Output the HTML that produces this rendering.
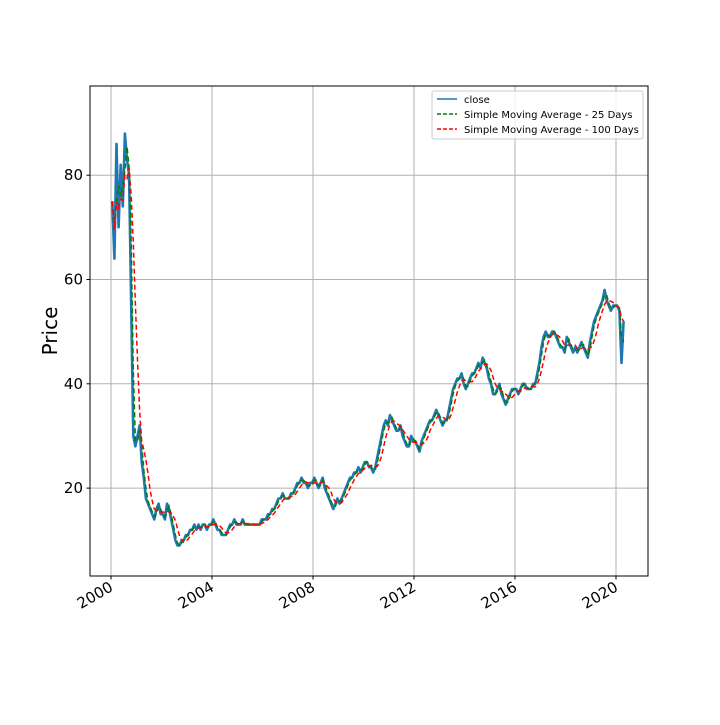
<!DOCTYPE html>
<html><head><meta charset="utf-8"><style>
body{margin:0;background:#fff;}
svg text{font-family:"DejaVu Sans","Liberation Sans",sans-serif;}
</style></head><body>
<svg id="chart" width="720" height="720" xmlns="http://www.w3.org/2000/svg">
<rect width="720" height="720" fill="#fff"/>
<g id="grid"></g>
<g id="series"></g>
<rect x="90" y="86" width="558" height="490" fill="none" stroke="#000" stroke-width="1"/>
<g id="axes"></g>
<text x="57" y="331" font-size="20" text-anchor="middle" transform="rotate(-90 57 331)">Price</text>
<g>
<rect x="432" y="91" width="211" height="48" fill="#fff" fill-opacity="0.8" stroke="#ccc" rx="2"/>
<line x1="437" y1="99" x2="457" y2="99" stroke="#1f77b4" stroke-width="1.5"/>
<text x="464" y="103" font-size="10">close</text>
<line x1="437" y1="114" x2="457" y2="114" stroke="green" stroke-width="1.5" stroke-dasharray="4,2"/>
<text x="464" y="118" font-size="10">Simple Moving Average - 25 Days</text>
<line x1="437" y1="129" x2="457" y2="129" stroke="red" stroke-width="1.5" stroke-dasharray="4,2"/>
<text x="464" y="133" font-size="10">Simple Moving Average - 100 Days</text>
</g>
</svg>
<script>
const startYear = 2000.05;
const closeValues = [
75,64,86,70,82,74,88,83,80,55,30,28,
30,32,25,22,18,17,16,15,14,16,17,15,
15,14,17,16,14,12,10,9,9,10,10,11,
11,12,12,13,12,13,12,13,13,12,13,13,
14,13,12,12,11,11,11,12,13,13,14,13,
13,13,14,13,13,13,13,13,13,13,13,14,
14,14,15,15,16,16,17,18,18,19,18,18,
18,19,19,20,21,21,22,21,21,20,21,21,
22,21,20,21,22,20,19,18,17,16,17,18,
17,18,19,20,21,22,22,23,23,24,23,24,
25,25,24,24,23,24,26,28,30,32,33,32,
34,33,32,31,31,32,30,29,28,28,30,29,
29,28,27,29,30,31,32,33,33,34,35,34,
33,32,33,33,35,37,39,40,41,41,42,40,
39,40,41,42,42,43,44,43,45,44,43,41,
40,38,38,39,40,38,37,36,37,38,39,39,
39,38,39,40,40,39,39,39,40,40,42,44,
47,49,50,49,49,50,50,49,48,47,47,46,
49,48,47,46,47,46,47,48,47,46,45,48,
50,52,53,54,55,56,58,56,55,54,55,55,
55,54,44,52];
const yTicks = [20,40,60,80];
const xTicks = [2000,2004,2008,2012,2016,2020];
const sma25Window = 2, sma100Window = 5;

function xs(t){return 111 + (t-2000)*25.25;}
function ys(v){return 592.4 - v*5.215;}
function sma(arr, w){
  const n=Math.max(1,Math.round(w));
  return arr.map((v,i)=>{const s=arr.slice(Math.max(0,i-n+1),i+1);return s.reduce((a,b)=>a+b,0)/s.length;});
}
const NS="http://www.w3.org/2000/svg";
function mk(tag,attrs,parent){const e=document.createElementNS(NS,tag);for(const k in attrs)e.setAttribute(k,attrs[k]);parent.appendChild(e);return e;}
const grid=document.getElementById('grid'), axes=document.getElementById('axes'), series=document.getElementById('series');
yTicks.forEach(v=>{
  const y=ys(v);
  const g=mk('line',{x1:90,x2:648,y1:y,y2:y,stroke:'#b0b0b0','stroke-width':1},grid);
  
  
  mk('line',{x1:86.5,x2:90,y1:y,y2:y,stroke:'#000'},axes);
  const t=mk('text',{x:83,y:y+5,'font-size':15,'text-anchor':'end'},axes);t.textContent=v;
  
  
});
xTicks.forEach(v=>{
  const x=xs(v);
  const g=mk('line',{x1:x,x2:x,y1:86,y2:576,stroke:'#b0b0b0','stroke-width':1},grid);
  
  
  mk('line',{x1:x,x2:x,y1:576,y2:579.5,stroke:'#000'},axes);
  const t=mk('text',{x:x+3,y:590,'font-size':15,'text-anchor':'end',transform:`rotate(-30 ${x+3} 590)`},axes);t.textContent=v;
  
  
});
function path(vals,attrs,name){
  const d=vals.map((v,i)=>(i?'L':'M')+xs(startYear+i/12).toFixed(1)+','+ys(v).toFixed(1)).join('');
  const p=mk('path',Object.assign({d:d,fill:'none'},attrs),series);
  
  
}
path(closeValues,{stroke:'#1f77b4','stroke-width':2.6,'stroke-linejoin':'round'},'close-line');
path(sma(closeValues,sma25Window),{stroke:'green','stroke-width':1.5,'stroke-dasharray':'5,3'},'sma-25-line');
path(sma(closeValues,sma100Window),{stroke:'red','stroke-width':1.5,'stroke-dasharray':'5,3'},'sma-100-line');
</script>
</body></html>
